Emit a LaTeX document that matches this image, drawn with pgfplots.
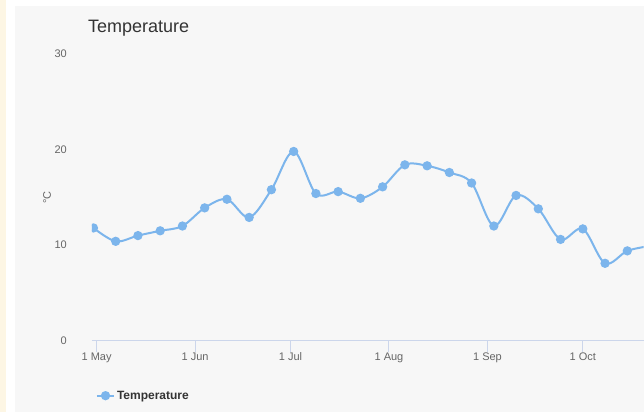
\documentclass[border=0pt]{standalone}
\usepackage{fontspec}
\setmainfont{Liberation Sans}
\usepackage{pgfplots}
\pgfplotsset{compat=1.18}
\definecolor{panel}{HTML}{F7F7F7}
\definecolor{leftstrip}{HTML}{FDF6E4}
\definecolor{series}{HTML}{7CB5EC}
\definecolor{axisc}{HTML}{CCD6EB}
\definecolor{labelc}{HTML}{666666}
\definecolor{titlec}{HTML}{333333}
\begin{document}
\begin{tikzpicture}[x=1pt,y=1pt]
\fill[white] (0,0) rectangle (644,412);
\fill[leftstrip] (0,0) rectangle (6,412);
\fill[panel] (15,0) rectangle (644,406);
\node[anchor=base west, inner sep=0pt, text=titlec, font=\fontsize{18}{22}\selectfont] at (88,379) {Temperature};
\begin{axis}[
  at={(92pt,71pt)}, anchor=south west,
  scale only axis, width=552pt, height=287pt,
  xmin=-1.48, xmax=172.1, ymin=0, ymax=30,
  axis lines*=left,
  x axis line style={draw=axisc, line width=1pt},
  y axis line style={draw=none},
  xtick={0,31,61,92,123,153},
  xticklabels={1 May,1 Jun,1 Jul,1 Aug,1 Sep,1 Oct},
  ytick={0,10,20,30},
  tick align=outside,
  xtick style={draw=axisc, line width=1pt},
  major tick length=11pt,
  ytick style={draw=none},
  /pgf/number format/assume math mode=true,
  ticklabel style={font=\fontsize{11}{13}\selectfont, text=labelc},
  xticklabel style={inner sep=0pt, anchor=north, yshift=-1pt},
  yticklabel style={inner sep=0pt, anchor=east, xshift=-14pt},
  ylabel={°C},
  every axis y label/.style={at={(axis description cs:-0.0815,0.5)}, rotate=90, anchor=center, font=\fontsize{11}{13}\selectfont, text=labelc},
  clip=true,
  clip marker paths=true,
  legend style={at={(axis description cs:0.007,-0.1916)}, anchor=west, draw=none, fill=none, inner sep=0pt, font=\bfseries\fontsize{12}{14}\selectfont, text=titlec},
  legend cell align=left,
]
\addplot[color=series, line width=2pt, smooth, tension=0.55, mark=*, mark size=3.6pt, mark options={fill=series, draw=none}] coordinates {
(-1,11.8) (6,10.4) (13,11.0) (20,11.5) (27,12.0) (34,13.9) (41,14.8) (48,12.9)
(55,15.8) (62,19.8) (69,15.4) (76,15.6) (83,14.9) (90,16.1) (97,18.4) (104,18.3)
(111,17.6) (118,16.5) (125,12.0) (132,15.2) (139,13.8) (146,10.6) (153,11.7)
(160,8.1) (167,9.4) (174,9.9)
};
\addlegendentry{Temperature}
\end{axis}
\end{tikzpicture}
\end{document}
